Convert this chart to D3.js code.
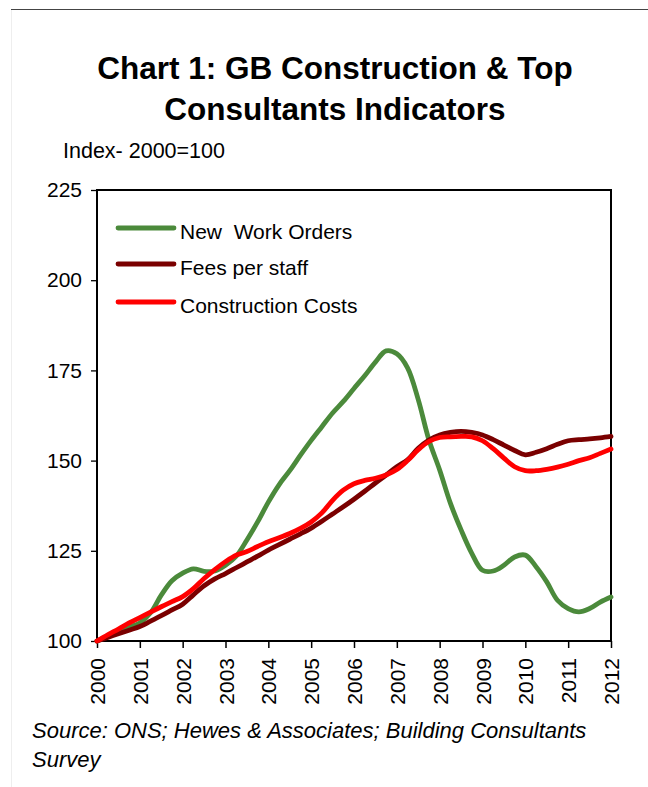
<!DOCTYPE html>
<html>
<head>
<meta charset="utf-8">
<script src="https://cdn.jsdelivr.net/npm/d3@7"></script>
<style>
  html, body { margin: 0; padding: 0; background: #fff; }
  svg { display: block; }
  text { font-family: Arial, "Liberation Sans", sans-serif; fill: #000; }
</style>
</head>
<body>
<svg id="chart" width="648" height="787"></svg>
<script>
// Quarterly periods, 2000 Q1 to 2012 Q1 (decimal years)
const periods = [
  2000.00, 2000.25, 2000.50, 2000.75, 2001.00, 2001.25, 2001.50, 2001.75,
  2002.00, 2002.25, 2002.50, 2002.75, 2003.00, 2003.25, 2003.50, 2003.75,
  2004.00, 2004.25, 2004.50, 2004.75, 2005.00, 2005.25, 2005.50, 2005.75,
  2006.00, 2006.25, 2006.50, 2006.75, 2007.00, 2007.25, 2007.50, 2007.75,
  2008.00, 2008.25, 2008.50, 2008.75, 2009.00, 2009.25, 2009.50, 2009.75,
  2010.00, 2010.25, 2010.50, 2010.75, 2011.00, 2011.25, 2011.50, 2011.75,
  2012.00
];

// Index, 2000 = 100
const newWorkOrders = [
  100, 101.3, 102.5, 103.8, 105, 107.8, 112.7, 116.7,
  118.8, 120, 119.3, 119.4, 121, 123.5, 128, 133,
  138.5, 143.3, 147.2, 151.5, 155.6, 159.4, 163.2, 166.4,
  170, 173.5, 177.3, 180.4, 179.6, 175.7, 166.9, 155.7,
  147.4, 138.2, 130.8, 124.3, 119.6, 119.4, 121, 123.3,
  123.8, 120.6, 116.4, 111.3, 109, 108.1, 109, 110.8,
  112.2
];
const feesPerStaff = [
  100, 101, 102, 103, 104, 105.5, 107, 108.6,
  110.2, 112.8, 115.3, 117.2, 118.7, 120.3, 121.9, 123.5,
  125.2, 126.7, 128.2, 129.7, 131.3, 133.2, 135.2, 137.2,
  139.3, 141.5, 143.8, 146, 148.3, 150.2, 153.4, 155.7,
  157.1, 157.8, 158.1, 157.8, 157.1, 155.8, 154.3, 152.8,
  151.6, 152.3, 153.3, 154.5, 155.5, 155.8, 156, 156.3,
  156.7
];
const constructionCosts = [
  100, 101.7, 103.3, 105, 106.5, 108, 109.5, 110.9,
  112.3, 114.5, 117.3, 119.8, 122, 123.8, 124.8, 126.2,
  127.5, 128.6, 129.8, 131.2, 133, 135.5, 139, 141.8,
  143.6, 144.5, 145.1, 146, 147.5, 150, 153, 155.3,
  156.4, 156.6, 156.7, 156.6, 155.5, 153.3, 150.7, 148.3,
  147.2, 147.2, 147.6, 148.2, 149, 150, 150.8, 152,
  153.2
];

const seriesNames = ["New  Work Orders", "Fees per staff", "Construction Costs"];
const seriesColors = ["#4b8a3b", "#7a0000", "#ff0000"];
const seriesValues = [newWorkOrders, feesPerStaff, constructionCosts];

const yearTicks = [2000, 2001, 2002, 2003, 2004, 2005, 2006, 2007, 2008, 2009, 2010, 2011, 2012];
const valueTicks = [100, 125, 150, 175, 200, 225];

const titleLines = ["Chart 1: GB Construction & Top", "Consultants Indicators"];
const unitLabel = "Index- 2000=100";
const sourceLines = ["Source: ONS; Hewes & Associates; Building Consultants", "Survey"];

const svg = d3.select("#chart");

// page frame: dark rule across the top and a faint left edge
svg.append("line").attr("x1", 11).attr("x2", 648).attr("y1", 9.5).attr("y2", 9.5)
  .attr("stroke", "#444").attr("stroke-width", 1.2);
svg.append("line").attr("x1", 11.5).attr("x2", 11.5).attr("y1", 10).attr("y2", 787)
  .attr("stroke", "#eeeeee").attr("stroke-width", 1);

// title
svg.selectAll("text.title").data(titleLines).join("text")
  .attr("class", "title")
  .attr("x", 335).attr("y", (d, i) => 79 + i * 41)
  .attr("text-anchor", "middle")
  .style("font-weight", "bold").style("font-size", "31.5px")
  .text(d => d);

svg.append("text").attr("x", 63).attr("y", 158)
  .style("font-size", "21.5px").text(unitLabel);

// scales
const x = d3.scaleLinear().domain([2000, 2012]).range([97, 611]);
const y = d3.scaleLinear().domain([100, 225]).range([641, 190]);

// y axis
const yAxis = svg.append("g").attr("transform", `translate(${x(2000)},0)`)
  .call(d3.axisLeft(y).tickValues(valueTicks).tickSize(6).tickPadding(9).tickFormat(d3.format("d")));
yAxis.select(".domain").remove();
yAxis.selectAll(".tick line").attr("stroke", "#000").attr("stroke-width", 1.3);
yAxis.selectAll(".tick text").style("font-size", "21px").style("font-family", "Arial, 'Liberation Sans', sans-serif").attr("fill", "#000");

// x axis
const xAxis = svg.append("g").attr("transform", `translate(0,${y(100)})`)
  .call(d3.axisBottom(x).tickValues(yearTicks).tickSize(7).tickFormat(d3.format("d")));
xAxis.select(".domain").remove();
xAxis.selectAll(".tick line").attr("stroke", "#000").attr("stroke-width", 1.5);
xAxis.selectAll(".tick text")
  .style("font-size", "21px").style("font-family", "Arial, 'Liberation Sans', sans-serif").attr("fill", "#000")
  .attr("text-anchor", "end")
  .attr("transform", "translate(0,17) rotate(-90)")
  .attr("x", 0).attr("y", 0).attr("dy", "0.36em");

// plot frame
svg.append("rect")
  .attr("x", x(2000)).attr("y", y(225))
  .attr("width", x(2012) - x(2000)).attr("height", y(100) - y(225))
  .attr("fill", "none").attr("stroke", "#000").attr("stroke-width", 2);

// series lines
const line = d3.line()
  .x((d, i) => x(periods[i]))
  .y(d => y(d))
  .curve(d3.curveCatmullRom.alpha(0.5));

const plot = svg.append("g");
seriesValues.forEach((vals, k) => {
  plot.append("path")
    .datum(vals)
    .attr("d", line)
    .attr("fill", "none")
    .attr("stroke", seriesColors[k])
    .attr("stroke-width", 4.8)
    .attr("stroke-linejoin", "round")
    .attr("stroke-linecap", "round");
});

// legend
const legendY = [228, 264, 302];
const legend = svg.append("g");
seriesNames.forEach((name, k) => {
  legend.append("line")
    .attr("x1", 118).attr("x2", 174)
    .attr("y1", legendY[k]).attr("y2", legendY[k])
    .attr("stroke", seriesColors[k]).attr("stroke-width", 4.8)
    .attr("stroke-linecap", "round");
  legend.append("text")
    .attr("x", 180).attr("y", legendY[k] + 10.5)
    .style("font-size", "21px")
    .style("white-space", "pre")
    .attr("xml:space", "preserve")
    .text(name);
});

// source note
svg.selectAll("text.source").data(sourceLines).join("text")
  .attr("class", "source")
  .attr("x", 32).attr("y", (d, i) => 738 + i * 29)
  .style("font-style", "italic").style("font-size", "22px")
  .text(d => d);
</script>
</body>
</html>
